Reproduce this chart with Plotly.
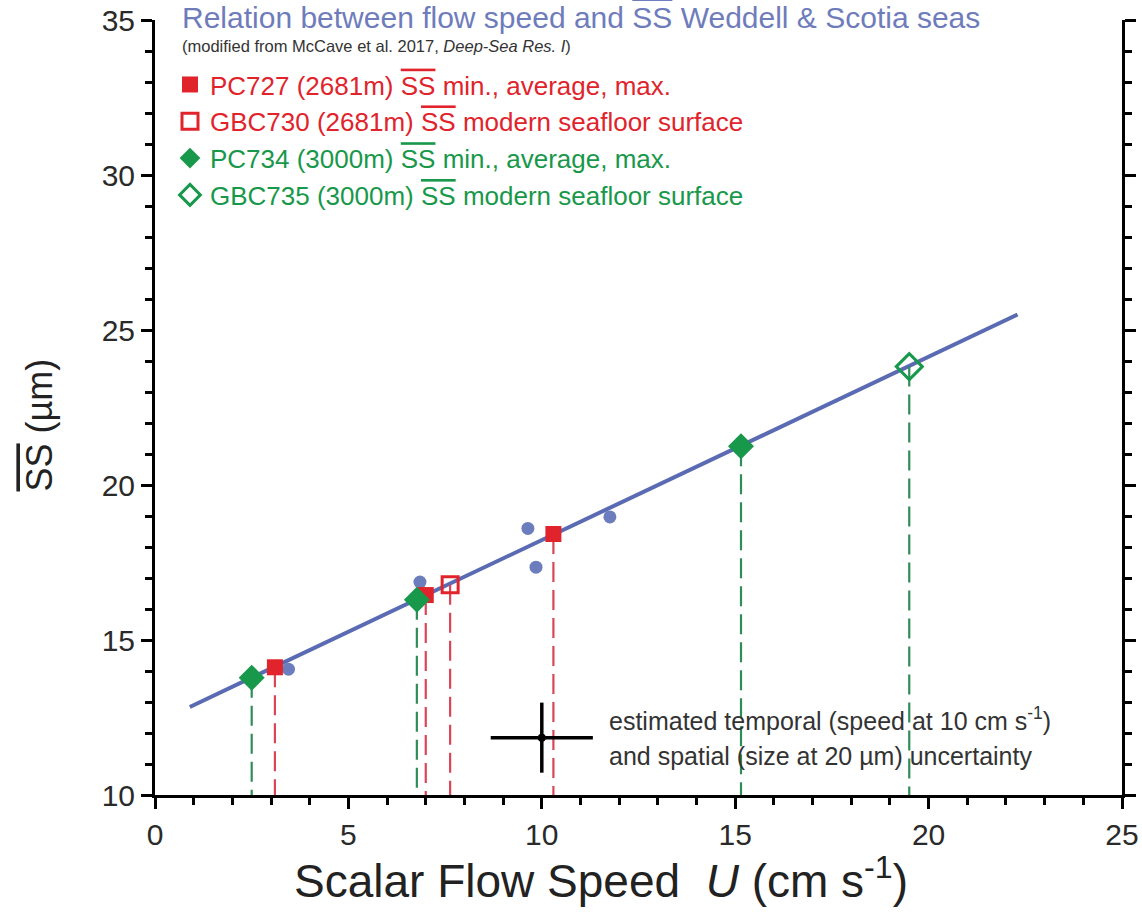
import plotly.graph_objects as go

# ---------------- data ----------------
# regression line of the Weddell & Scotia seas compilation (end points)
fit_u = [0.9, 22.3]
fit_ss = [12.84, 25.5]

# compilation data points (blue dots)
ref_u = [3.45, 6.85, 9.64, 9.85, 11.76]
ref_ss = [14.06, 16.87, 18.60, 17.35, 18.97]

# PC727 (2681 m) min., average, max.
pc727_u = [3.1, 7.0, 10.3]
pc727_ss = [14.12, 16.45, 18.42]
# GBC730 (2681 m) modern seafloor surface
gbc730_u = [7.63]
gbc730_ss = [16.78]
# PC734 (3000 m) min., average, max.
pc734_u = [2.5, 6.77, 15.15]
pc734_ss = [13.78, 16.30, 21.25]
# GBC735 (3000 m) modern seafloor surface
gbc735_u = [19.5]
gbc735_ss = [23.82]

# uncertainty cross
unc_u = [10.0]
unc_ss = [11.85]
unc_du = [1.32]
unc_dss = [1.13]

x_ticks = [0, 5, 10, 15, 20, 25]
y_ticks = [10, 15, 20, 25, 30, 35]
x_range = [0, 25]
y_range = [10, 35]

# ---------------- styles ----------------
FONT = "Liberation Sans, Arial, sans-serif"
BLUE_LINE = "#5a6bb3"
BLUE_DOT = "#6c7dbd"
RED = "#e1232c"
RED_DASH = "#da4657"
GREEN = "#18984a"
GREEN_DASH = "#2f8d58"
OL = "<span style='text-decoration:overline'>SS</span>"


def droplines(us, ss, floor):
    xs, ys = [], []
    for u, s in zip(us, ss):
        xs += [u, u, None]
        ys += [s, floor, None]
    return xs, ys


fig = go.Figure()

# regression line
fig.add_trace(go.Scatter(x=fit_u, y=fit_ss, mode="lines",
                         line=dict(color=BLUE_LINE, width=4), showlegend=False, hoverinfo="skip"))
# compilation dots
fig.add_trace(go.Scatter(x=ref_u, y=ref_ss, mode="markers",
                         marker=dict(color=BLUE_DOT, size=13), showlegend=False))

# drop lines
for us, ss, col in [(pc727_u, pc727_ss, RED_DASH), (gbc730_u, gbc730_ss, RED_DASH),
                    (pc734_u, pc734_ss, GREEN_DASH), (gbc735_u, gbc735_ss, GREEN_DASH)]:
    dx, dy = droplines(us, ss, y_range[0])
    fig.add_trace(go.Scatter(x=dx, y=dy, mode="lines",
                             line=dict(color=col, width=2.2, dash="20px,8px"),
                             showlegend=False, hoverinfo="skip"))

# core markers (also legend entries)
fig.add_trace(go.Scatter(
    x=pc727_u, y=pc727_ss, mode="markers",
    marker=dict(symbol="square", color=RED, size=16, line=dict(width=0)),
    name=f"<span style='color:{RED}'>PC727 (2681m) {OL} min., average, max.</span>"))
fig.add_trace(go.Scatter(
    x=gbc730_u, y=gbc730_ss, mode="markers",
    marker=dict(symbol="square-open", color=RED, size=16, line=dict(width=3)),
    name=f"<span style='color:{RED}'>GBC730 (2681m) {OL} modern seafloor surface</span>"))
fig.add_trace(go.Scatter(
    x=pc734_u, y=pc734_ss, mode="markers",
    marker=dict(symbol="diamond", color=GREEN, size=20, line=dict(width=0)),
    name=f"<span style='color:{GREEN}'>PC734 (3000m) {OL} min., average, max.</span>"))
fig.add_trace(go.Scatter(
    x=gbc735_u, y=gbc735_ss, mode="markers",
    marker=dict(symbol="diamond-open", color=GREEN, size=20, line=dict(width=3)),
    name=f"<span style='color:{GREEN}'>GBC735 (3000m) {OL} modern seafloor surface</span>"))

# uncertainty cross
fig.add_trace(go.Scatter(
    x=unc_u, y=unc_ss, mode="markers",
    marker=dict(color="black", size=8),
    error_x=dict(type="data", array=unc_du, color="black", thickness=3.5, width=0),
    error_y=dict(type="data", array=unc_dss, color="black", thickness=3.5, width=0),
    showlegend=False))

axis_common = dict(
    showgrid=False, zeroline=False, showline=True, linecolor="black", linewidth=3,
    ticks="outside", ticklen=11, tickwidth=2.5, tickcolor="black", automargin=False,
    tickfont=dict(family=FONT, size=30, color="#2a2a2a"),
    minor=dict(ticks="outside", ticklen=7, tickwidth=2.5, tickcolor="black", dtick=1),
)

fig.update_xaxes(range=x_range, tickvals=x_ticks, mirror=False, **axis_common)
fig.update_yaxes(range=y_range, tickvals=y_ticks, mirror="ticks", **axis_common)

annotations = [
    dict(text=f"Relation between flow speed and {OL} Weddell &amp; Scotia seas",
         x=0.026, y=1.0026, xanchor="left", yanchor="middle",
         font=dict(family=FONT, size=30, color="#6f7cbc")),
    dict(text="(modified from McCave et al. 2017, <i>Deep-Sea Res. I</i>)",
         x=0.026, y=0.966, xanchor="left", yanchor="middle",
         font=dict(family=FONT, size=16.5, color="#333333")),
    dict(text="estimated temporal (speed at 10 cm s<sup>-1</sup>)",
         x=0.4674, y=0.098, xanchor="left", yanchor="middle",
         font=dict(family=FONT, size=25, color="#333333")),
    dict(text="and spatial (size at 20 \u00b5m) uncertainty",
         x=0.4674, y=0.0503, xanchor="left", yanchor="middle",
         font=dict(family=FONT, size=25, color="#333333")),
    dict(text="Scalar Flow Speed  <i>U</i> (cm s<sup>-1</sup>)",
         x=0.461, y=-0.107, xanchor="center", yanchor="middle",
         font=dict(family=FONT, size=46, color="#222222")),
    dict(text=f"{OL} (\u00b5m)",
         x=-0.119, y=0.478, xanchor="center", yanchor="middle", textangle=-90,
         font=dict(family=FONT, size=36, color="#222222")),
]
for a in annotations:
    a.update(xref="paper", yref="paper", showarrow=False)

fig.update_layout(
    width=1142, height=914,
    margin=dict(l=155, r=20, t=20, b=119, autoexpand=False),
    paper_bgcolor="white", plot_bgcolor="white",
    font=dict(family=FONT),
    annotations=annotations,
    legend=dict(x=0.0155, y=0.947, xanchor="left", yanchor="top",
                bgcolor="rgba(0,0,0,0)", font=dict(family=FONT, size=26),
                itemclick=False),
)

fig.write_html("out.html")
